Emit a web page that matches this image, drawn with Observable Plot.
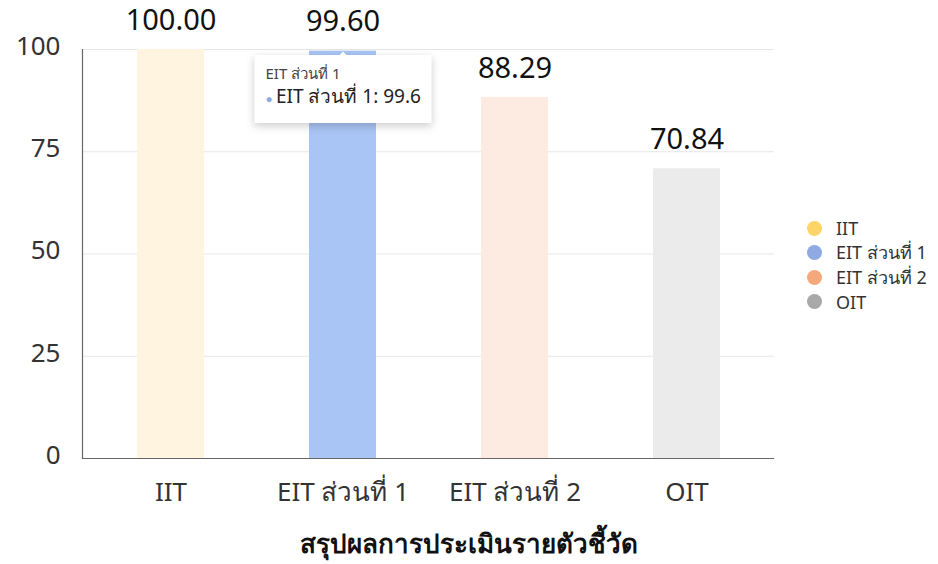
<!DOCTYPE html>
<html>
<head>
<meta charset="utf-8">
<script src="https://cdn.jsdelivr.net/npm/d3@7"></script>
<script src="https://cdn.jsdelivr.net/npm/@observablehq/plot@0.6"></script>
<style>
  html, body { margin: 0; padding: 0; background: #fff; }
  #wrap { position: relative; width: 938px; height: 564px; font-family: "Noto Sans", "Open Sans", sans-serif; }
  #legend { position: absolute; left: 807px; top: 216px; font-size: 18px; color: #333; }
  #legend .item { display: flex; align-items: center; height: 24.5px; }
  #legend .sw { width: 15px; height: 15px; border-radius: 50%; margin-right: 14px; }
  #title { position: absolute; left: 0; width: 938px; top: 523px; text-align: center; font-size: 26px; font-weight: 600; color: #111; }
</style>
</head>
<body>
<div id="wrap">
  <div id="chart"></div>
  <div id="legend"></div>
  <div id="title"></div>
</div>
<script>
const categories = ["IIT", "EIT ส่วนที่ 1", "EIT ส่วนที่ 2", "OIT"];
const values = [100.00, 99.60, 88.29, 70.84];
const yTicks = [0, 25, 50, 75, 100];
const highlighted = "EIT ส่วนที่ 1";
const titleText = "สรุปผลการประเมินรายตัวชี้วัด";
const barColors = ["#fff4df", "#a9c5f5", "#fdebe1", "#ebebeb"];
const legendColors = ["#fdd566", "#8faae2", "#f4a87c", "#a8a8a8"];

const table = categories.map((name, i) => ({name, value: values[i]}));

const chart = Plot.plot({
  width: 938,
  height: 515,
  marginLeft: 82,
  marginRight: 164,
  marginTop: 49,
  marginBottom: 57,
  style: {fontFamily: '"Noto Sans", "Open Sans", sans-serif', fontSize: "20px", color: "#333", background: "#fff"},
  x: {domain: categories, paddingInner: 0.613, paddingOuter: 0.312, label: null},
  y: {domain: [0, 100], label: null},
  color: {domain: categories, range: barColors},
  marks: [
    Plot.gridY(yTicks.filter(t => t > 0), {stroke: "#e6e6e6", strokeOpacity: 1}),
    Plot.barY(table, {x: "name", y: "value", fill: "name"}),
    Plot.ruleY([0], {stroke: "#666", strokeWidth: 1.2}),
    Plot.frame({anchor: "left", stroke: "#666", strokeWidth: 1.2}),
    Plot.axisY({ticks: yTicks, tickSize: 0, tickPadding: 22, label: null, dy: -3, fill: "#333", fontSize: 26}),
    Plot.axisX({tickSize: 0, tickPadding: 24, label: null, fill: "#333", fontSize: 26}),
    Plot.text(table, {x: "name", y: "value", text: d => d.value.toFixed(2), dy: -29, fontSize: 29, fill: "#111"}),
    Plot.tip(table.filter(d => d.name === highlighted), {
      x: "name", y: "value", anchor: "top", pointerSize: 7, fontSize: 19, lineHeight: 1.25,
      textPadding: 11, stroke: "none", lineWidth: 40,
      title: d => `${d.name}\n${d.name}: ${d.value}`
    })
  ]
});
document.getElementById("chart").appendChild(chart);

// style the tooltip lines
const tspans = chart.querySelectorAll('g[aria-label="tip"] text > tspan');
if (tspans.length >= 2) {
  tspans[0].setAttribute("font-size", "15");
  tspans[0].setAttribute("fill", "#444");
  const t2 = tspans[1];
  const txt = t2.textContent;
  while (t2.firstChild) t2.removeChild(t2.firstChild);
  const dot = document.createElementNS("http://www.w3.org/2000/svg", "tspan");
  dot.setAttribute("fill", legendColors[categories.indexOf(highlighted)]);
  dot.setAttribute("font-size", "12");
  dot.textContent = "● ";
  const rest = document.createElementNS("http://www.w3.org/2000/svg", "tspan");
  rest.setAttribute("fill", "#222");
  rest.setAttribute("font-size", "19");
  rest.setAttribute("font-weight", "normal");
  rest.textContent = txt;
  t2.appendChild(dot);
  t2.appendChild(rest);
}

const legend = document.getElementById("legend");
categories.forEach((c, i) => {
  const item = document.createElement("div");
  item.className = "item";
  const sw = document.createElement("div");
  sw.className = "sw";
  sw.style.background = legendColors[i];
  const lab = document.createElement("span");
  lab.textContent = c;
  item.appendChild(sw);
  item.appendChild(lab);
  legend.appendChild(item);
});
document.getElementById("title").textContent = titleText;
</script>
</body>
</html>
